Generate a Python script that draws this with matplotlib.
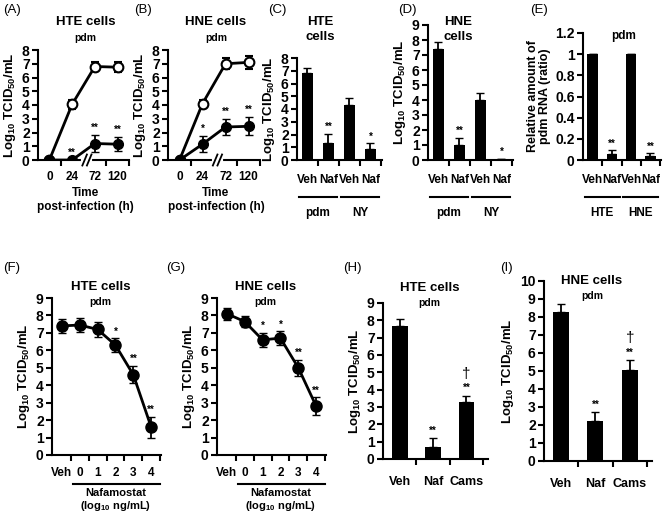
import numpy as np
import matplotlib
matplotlib.use("Agg")
import matplotlib.pyplot as plt
import matplotlib.transforms as mtransforms

plt.rcParams['font.family'] = ['Liberation Sans', 'DejaVu Sans']
plt.rcParams['font.weight'] = 'bold'
plt.rcParams['mathtext.fontset'] = 'custom'
plt.rcParams['mathtext.rm'] = 'Liberation Sans:bold'
plt.rcParams['mathtext.it'] = 'Liberation Sans:bold'
plt.rcParams['mathtext.bf'] = 'Liberation Sans:bold'
plt.rcParams['mathtext.default'] = 'rm'

# ---- data ----
times = ['0', '24', '72', '120']
a_veh = [0, 4.05, 6.8, 6.75]
a_veh_err = [0, 0.35, 0.3, 0.35]
a_naf = [0, 0, 1.2, 1.15]
a_naf_err = [0, 0, 0.6, 0.5]
a_stars = ['', '**', '**', '**']

b_veh = [0, 4.1, 7.0, 7.1]
b_veh_err = [0, 0.3, 0.4, 0.5]
b_naf = [0, 1.15, 2.4, 2.45]
b_naf_err = [0, 0.6, 0.6, 0.65]
b_stars = ['', '*', '**', '**']

bar_labels = ['Veh', 'Naf', 'Veh', 'Naf']
c_vals = [6.85, 1.35, 4.35, 0.85]
c_err = [0.4, 0.7, 0.5, 0.45]
c_stars = ['', '**', '', '*']
c_groups = ['pdm', 'NY']

d_vals = [7.4, 1.0, 4.0, 0.08]
d_err = [0.5, 0.45, 0.45, 0.0]
d_stars = ['', '**', '', '*']

e_vals = [1.0, 0.06, 1.0, 0.035]
e_err = [0, 0.035, 0, 0.03]
e_stars = ['', '**', '', '**']
e_groups = ['HTE', 'HNE']

doses = ['Veh', '0', '1', '2', '3', '4']
f_vals = [7.4, 7.45, 7.2, 6.3, 4.6, 1.6]
f_err = [0.4, 0.4, 0.45, 0.4, 0.5, 0.6]
f_stars = ['', '', '', '*', '**', '**']

g_vals = [8.1, 7.65, 6.6, 6.7, 5.0, 2.8]
g_err = [0.35, 0.3, 0.4, 0.4, 0.45, 0.5]
g_stars = ['', '', '*', '*', '**', '**']

treat = ['Veh', 'Naf', 'Cams']
h_vals = [7.7, 0.7, 3.3]
h_err = [0.35, 0.5, 0.35]
h_stars = ['', '**', '**']

i_vals = [8.3, 2.2, 5.05]
i_err = [0.45, 0.5, 0.55]
i_stars = ['', '**', '**']

W, H = 667, 514
fig = plt.figure(figsize=(W / 100, H / 100), dpi=100)

ylab = r'Log$_{10}$ TCID$_{50}$/mL'


def add_ax(x0, x1, ytop, ybot):
    ax = fig.add_axes([x0 / W, 1 - ybot / H, (x1 - x0) / W, (ybot - ytop) / H])
    for s in ['top', 'right']:
        ax.spines[s].set_visible(False)
    for s in ['left', 'bottom']:
        ax.spines[s].set_linewidth(1.5)
    ax.tick_params(axis='y', direction='out', length=4, width=1.5, labelsize=10, pad=2)
    ax.tick_params(axis='x', which='major', length=0, labelsize=8.5, pad=8)
    ax.tick_params(axis='x', which='minor', direction='out', length=4, width=1.5)
    return ax


def bolden(ax):
    for lab in ax.get_yticklabels() + ax.get_xticklabels():
        lab.set_fontweight('bold')


def ftext(x, y, s, **kw):
    fig.text(x / W, 1 - y / H, s, **kw)


def stars(ax, vals, errs, marks, off, size=7):
    for i, (v, e, m) in enumerate(zip(vals, errs, marks)):
        if m:
            ax.text(i, v + e + off, m, ha='center', va='bottom', fontsize=size)


def group_lines(ax, y, groups, ylab_px):
    tr = mtransforms.blended_transform_factory(ax.transData, fig.transFigure)
    for k, g in enumerate(groups):
        x0, x1 = 2 * k - 0.4, 2 * k + 1.4
        ax.plot([x0, x1], [1 - y / H] * 2, color='black', lw=1.5, transform=tr, clip_on=False)
        ax.text(2 * k + 0.5, 1 - ylab_px / H, g, transform=tr, ha='center', va='center', fontsize=8.5)


def time_panel(x0, x1, veh, veh_err, naf, naf_err, marks, title, letter, lx):
    ax = add_ax(x0, x1, 50, 160)
    x = np.arange(len(times))
    ax.errorbar(x, veh, yerr=veh_err, color='black', lw=2, capsize=3, elinewidth=1.3,
                marker='o', markersize=7, mfc='white', mec='black', mew=1.5, zorder=3)
    ax.errorbar(x, naf, yerr=naf_err, color='black', lw=2, capsize=3, elinewidth=1.3,
                marker='o', markersize=7, mfc='black', mec='black', zorder=4)
    stars(ax, naf, naf_err, marks, 0.15)
    ax.set_xlim(-0.5, 3.5)
    ax.set_ylim(0, 8)
    ax.set_yticks(range(0, 9))
    ax.set_xticks(x)
    ax.set_xticklabels(times)
    ax.set_xticks([0.5, 2.5, 3.5], minor=True)
    # axis break
    tr = mtransforms.blended_transform_factory(ax.transData, ax.transAxes)
    ax.plot([1.5, 1.8], [0, 0], color='white', lw=3, transform=tr, clip_on=False, zorder=5)
    for bx in [1.5, 1.7]:
        ax.plot([bx - 0.05, bx + 0.15], [-0.05, 0.05], color='black', lw=1.3,
                transform=tr, clip_on=False, zorder=6)
    ax.set_ylabel(ylab, fontsize=9.5, labelpad=3, fontweight='bold')
    bolden(ax)
    cx = (x0 + x1) / 2 + 2
    ftext(cx, 193, 'Time', ha='center', va='center', fontsize=8.5)
    ftext(cx, 207, 'post-infection (h)', ha='center', va='center', fontsize=8.5)
    ftext(cx, 22, title, ha='center', va='center', fontsize=9.5)
    ftext(cx, 38, 'pdm', ha='center', va='center', fontsize=7.5)
    ftext(lx, 10, letter, ha='left', va='center', fontsize=9.5, fontweight='normal')
    return ax


time_panel(38, 129, a_veh, a_veh_err, a_naf, a_naf_err, a_stars, 'HTE cells', '(A)', 3)
time_panel(168, 260, b_veh, b_veh_err, b_naf, b_naf_err, b_stars, 'HNE cells', '(B)', 134)


def bar4(x0, x1, ytop, vals, errs, marks, ymax, yticks, groups, off):
    ax = add_ax(x0, x1, ytop, 160)
    x = np.arange(4)
    ax.bar(x, vals, width=0.55, color='black')
    ax.errorbar(x, vals, yerr=[np.zeros(4), errs], fmt='none', ecolor='black',
                capsize=3, elinewidth=1.3)
    stars(ax, vals, errs, marks, off)
    ax.set_xlim(-0.5, 3.55)
    ax.set_ylim(0, ymax)
    ax.set_yticks(yticks)
    ax.set_xticks(x)
    ax.set_xticklabels(bar_labels)
    ax.set_xticks([0.5, 1.5, 2.5, 3.5], minor=True)
    ax.tick_params(axis='x', which='major', pad=10)
    group_lines(ax, 197, groups, 213)
    return ax


ax = bar4(297, 382, 58, c_vals, c_err, c_stars, 8, range(0, 9), c_groups, 0.15)
ax.set_ylabel(ylab, fontsize=9.5, labelpad=3, fontweight='bold')
bolden(ax)
ftext(320, 22, 'HTE', ha='center', va='center', fontsize=9.5)
ftext(320, 37, 'cells', ha='center', va='center', fontsize=9.5)
ftext(268, 10, '(C)', ha='left', va='center', fontsize=9.5, fontweight='normal')

ax = bar4(428, 513, 25, d_vals, d_err, d_stars, 9, range(0, 10), c_groups, 0.15)
ax.set_ylabel(ylab, fontsize=9.5, labelpad=3, fontweight='bold')
bolden(ax)
ftext(458, 22, 'HNE', ha='center', va='center', fontsize=9.5)
ftext(458, 37, 'cells', ha='center', va='center', fontsize=9.5)
ftext(398, 10, '(D)', ha='left', va='center', fontsize=9.5, fontweight='normal')

ax = bar4(583, 661, 33, e_vals, e_err, e_stars, 1.2, np.arange(0, 1.21, 0.2), e_groups, 0.01)
ax.set_yticklabels(['0', '0.2', '0.4', '0.6', '0.8', '1', '1.2'])
ax.set_ylabel('Relative amount of\npdm RNA (ratio)', fontsize=9, labelpad=3, linespacing=1.0,
              fontweight='bold')
bolden(ax)
ftext(624, 36, 'pdm', ha='center', va='center', fontsize=8.5)
ftext(530, 10, '(E)', ha='left', va='center', fontsize=9.5, fontweight='normal')


def dose_panel(x0, x1, vals, errs, marks, title, letter, lx):
    ax = add_ax(x0, x1, 298, 455)
    x = np.arange(len(doses))
    ax.errorbar(x, vals, yerr=errs, color='black', lw=2, capsize=3, elinewidth=1.3,
                marker='o', markersize=8, mfc='black', mec='black')
    stars(ax, vals, errs, marks, 0.1)
    ax.set_xlim(-0.55, 5.55)
    ax.set_ylim(0, 9)
    ax.set_yticks(range(0, 10))
    ax.set_xticks(x)
    ax.set_xticklabels(doses)
    ax.set_xticks(np.arange(0.5, 5.6, 1), minor=True)
    ax.tick_params(axis='x', which='major', pad=9)
    ax.set_ylabel(ylab, fontsize=9.5, labelpad=3, fontweight='bold')
    bolden(ax)
    tr = mtransforms.blended_transform_factory(ax.transData, fig.transFigure)
    ax.plot([0.6, 5.5], [1 - 484 / H] * 2, color='black', lw=1.5, transform=tr, clip_on=False)
    ax.text(3.0, 1 - 493 / H, 'Nafamostat', transform=tr, ha='center', va='center', fontsize=8)
    ax.text(3.0, 1 - 506 / H, r'(log$_{10}$ ng/mL)', transform=tr, ha='center', va='center',
            fontsize=8)
    cx = (x0 + x1) / 2 - 6
    ftext(cx, 287, title, ha='center', va='center', fontsize=9.5)
    ftext(cx, 302, 'pdm', ha='center', va='center', fontsize=7.5)
    ftext(lx, 268, letter, ha='left', va='center', fontsize=9.5, fontweight='normal')


dose_panel(52, 161, f_vals, f_err, f_stars, 'HTE cells', '(F)', 3)
dose_panel(217, 326, g_vals, g_err, g_stars, 'HNE cells', '(G)', 166)


def treat_panel(x0, x1, ytop, ybot, vals, errs, marks, ymax, title, letter, lx, ty):
    ax = add_ax(x0, x1, ytop, ybot)
    x = np.arange(3)
    ax.bar(x, vals, width=0.47, color='black')
    ax.errorbar(x, vals, yerr=[np.zeros(3), errs], fmt='none', ecolor='black',
                capsize=3, elinewidth=1.3)
    stars(ax, vals, errs, marks, 0.15)
    ax.text(2, vals[2] + errs[2] + 0.85, '\u2020', ha='center', va='bottom', fontsize=11,
            fontweight='normal')
    ax.set_xlim(-0.5, 2.65)
    ax.set_ylim(0, ymax)
    ax.set_yticks(range(0, ymax + 1))
    ax.set_xticks(x)
    ax.set_xticklabels(treat)
    ax.set_xticks([0.5, 1.5, 2.5], minor=True)
    ax.tick_params(axis='x', which='major', labelsize=9, pad=12)
    ax.set_ylabel(ylab, fontsize=9.5, labelpad=3, fontweight='bold')
    bolden(ax)
    cx = (x0 + x1) / 2 - 6
    ftext(cx, ty, title, ha='center', va='center', fontsize=9.5)
    ftext(cx, ty + 15, 'pdm', ha='center', va='center', fontsize=7.5)
    ftext(lx, 268, letter, ha='left', va='center', fontsize=9.5, fontweight='normal')


treat_panel(383, 488, 303, 459, h_vals, h_err, h_stars, 9, 'HTE cells', '(H)', 343, 288)
treat_panel(544, 652, 281, 461, i_vals, i_err, i_stars, 10, 'HNE cells', '(I)', 500, 281)

fig.savefig('out.png', dpi=100)
